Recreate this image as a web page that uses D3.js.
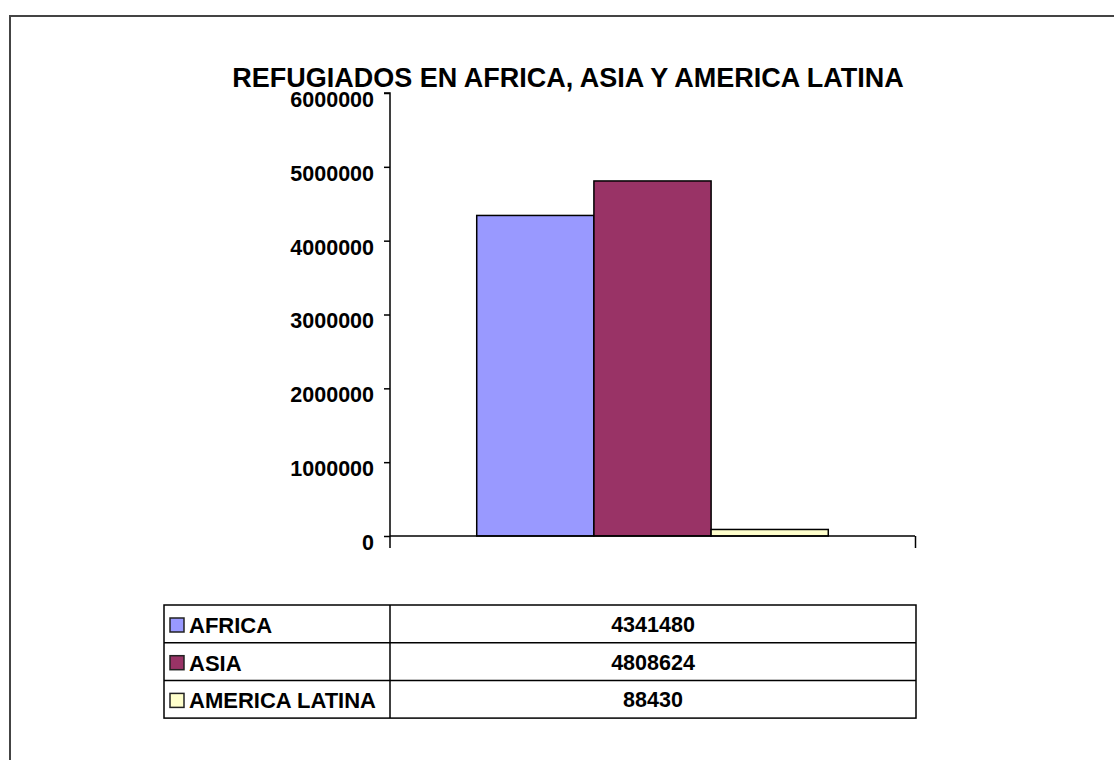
<!DOCTYPE html>
<html>
<head>
<meta charset="utf-8">
<script src="https://cdn.jsdelivr.net/npm/d3@7"></script>
<style>
  html, body { margin: 0; padding: 0; background: #fff; }
  svg { display: block; font-family: "Liberation Sans", Arial, sans-serif; font-weight: bold; }
</style>
</head>
<body>
<svg id="chart" width="1114" height="760"></svg>
<script>
// Refugee totals by region
const title = "REFUGIADOS EN AFRICA, ASIA Y AMERICA LATINA";
const regions = ["AFRICA", "ASIA", "AMERICA LATINA"];
const refugees = [4341480, 4808624, 88430];
const colors = ["#9999FF", "#993366", "#FFFFCC"];
const yTicks = [0, 1000000, 2000000, 3000000, 4000000, 5000000, 6000000];

const svg = d3.select("#chart");

// Outer frame (open on the right and bottom)
svg.append("path")
  .attr("d", "M10,760 L10,16 L1114,16")
  .attr("fill", "none")
  .attr("stroke", "#444")
  .attr("stroke-width", 2);

// Plot area
const plot = { left: 390, right: 915, top: 93, bottom: 536 };

const y = d3.scaleLinear()
  .domain([0, 6000000])
  .range([plot.bottom, plot.top]);

const x = d3.scaleBand()
  .domain(regions)
  .range([plot.left, plot.right])
  .paddingInner(0)
  .paddingOuter(0.74);

// Title
svg.append("text")
  .attr("x", 568)
  .attr("y", 87)
  .attr("text-anchor", "middle")
  .attr("font-size", 27)
  .attr("fill", "#000")
  .text(title);

// Bars
svg.append("g")
  .selectAll("rect")
  .data(regions.map((r, i) => ({ region: r, value: refugees[i], color: colors[i] })))
  .join("rect")
  .attr("x", d => x(d.region))
  .attr("y", d => y(d.value))
  .attr("width", x.bandwidth())
  .attr("height", d => plot.bottom - y(d.value))
  .attr("fill", d => d.color)
  .attr("stroke", "#000")
  .attr("stroke-width", 1.5);

// Y axis
const yAxis = d3.axisLeft(y)
  .tickValues(yTicks)
  .tickSize(6)
  .tickPadding(10)
  .tickFormat(d3.format("d"));

const yg = svg.append("g")
  .attr("transform", `translate(${plot.left},0)`)
  .call(yAxis);
yg.select(".domain").attr("stroke", "#000").attr("stroke-width", 1.5)
  .attr("d", `M-6,${plot.top}H0V${plot.bottom + 12}`);
yg.selectAll(".tick line").attr("stroke", "#000").attr("stroke-width", 1.5);
yg.selectAll(".tick text")
  .attr("font-size", 21.5)
  .attr("font-family", "Liberation Sans, Arial, sans-serif")
  .attr("font-weight", "bold")
  .attr("fill", "#000")
  .attr("dy", "0.62em")
  .attr("y", 0);

// X axis: baseline with category boundary ticks
const xEdge = d3.scaleLinear().domain([0, 1]).range([plot.left, plot.right]);
const xg = svg.append("g")
  .attr("transform", `translate(0,${plot.bottom})`)
  .call(d3.axisBottom(xEdge).tickValues([1]).tickSize(12).tickFormat(""));
xg.select(".domain").attr("stroke", "#000").attr("stroke-width", 1.5)
  .attr("d", `M${plot.left},0H${plot.right}`);
xg.selectAll(".tick line").attr("stroke", "#000").attr("stroke-width", 1.5);

// Data table
const table = { left: 164, divider: 390, right: 916, top: 605, rowH: 37.7 };
const rowY = d3.scaleBand()
  .domain(regions)
  .range([table.top, table.top + table.rowH * regions.length]);

const tg = svg.append("g");
tg.append("rect")
  .attr("x", table.left)
  .attr("y", table.top)
  .attr("width", table.right - table.left)
  .attr("height", table.rowH * regions.length)
  .attr("fill", "none")
  .attr("stroke", "#000")
  .attr("stroke-width", 1.5);
tg.append("line")
  .attr("x1", table.divider).attr("x2", table.divider)
  .attr("y1", table.top).attr("y2", table.top + table.rowH * regions.length)
  .attr("stroke", "#000").attr("stroke-width", 1.5);
tg.selectAll("line.row")
  .data(regions.slice(1))
  .join("line")
  .attr("class", "row")
  .attr("x1", table.left).attr("x2", table.right)
  .attr("y1", d => rowY(d)).attr("y2", d => rowY(d))
  .attr("stroke", "#000").attr("stroke-width", 1.5);

const rows = tg.selectAll("g.cell")
  .data(regions.map((r, i) => ({ region: r, value: refugees[i], color: colors[i] })))
  .join("g")
  .attr("class", "cell")
  .attr("transform", d => `translate(0,${rowY(d.region)})`);

rows.append("rect")
  .attr("x", 170)
  .attr("y", 13)
  .attr("width", 14)
  .attr("height", 14)
  .attr("fill", d => d.color)
  .attr("stroke", "#222")
  .attr("stroke-width", 1.5);

rows.append("text")
  .attr("x", 189)
  .attr("y", 28)
  .attr("font-size", 22)
  .attr("fill", "#000")
  .text(d => d.region);

rows.append("text")
  .attr("x", (table.divider + table.right) / 2)
  .attr("y", 27)
  .attr("text-anchor", "middle")
  .attr("font-size", 21.5)
  .attr("fill", "#000")
  .text(d => d.value);
</script>
</body>
</html>
